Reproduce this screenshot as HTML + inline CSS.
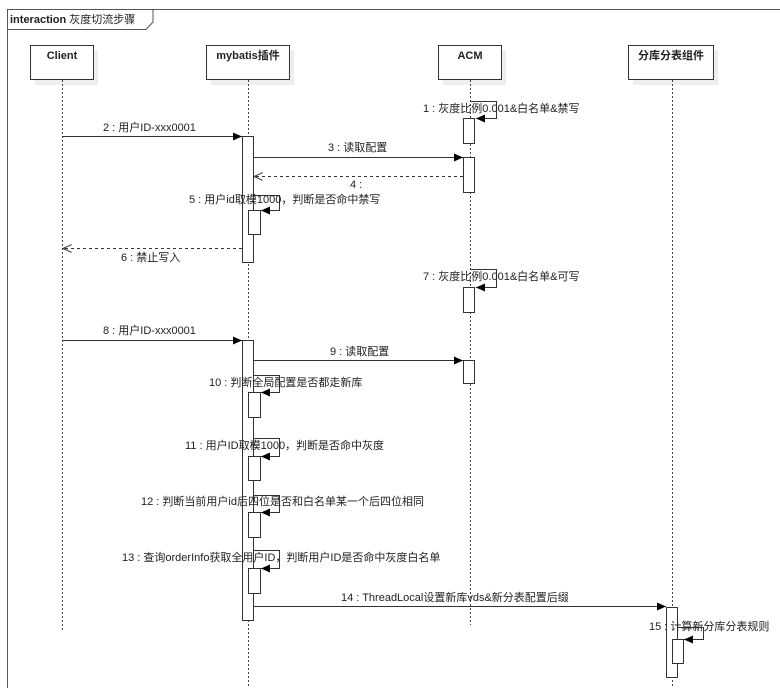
<!DOCTYPE html>
<html><head><meta charset="utf-8"><style>
html,body{margin:0;padding:0;background:#fff;width:780px;height:688px;overflow:hidden}
svg text{font-family:"Liberation Sans","Noto Sans CJK SC",sans-serif;font-size:11px;fill:#222}
</style></head><body>
<svg width="780" height="688" viewBox="0 0 780 688" xmlns="http://www.w3.org/2000/svg">
<defs>
<marker id="f" markerWidth="10" markerHeight="8" refX="9" refY="4" orient="auto" markerUnits="userSpaceOnUse"><path d="M0,0 L9,4 L0,8 z" fill="#000"/></marker>
<marker id="o" markerWidth="10" markerHeight="8" refX="9" refY="4" orient="auto" markerUnits="userSpaceOnUse"><path d="M0,0 L9,4 L0,8" fill="none" stroke="#333"/></marker>
</defs>
<g fill="none" stroke="#555">
<path d="M7.5,700 V9.5 H790"/>
<path d="M7.5,29.5 H146 L153,22 V9.5"/>
</g>
<text x="10" y="23" style="font-weight:bold">interaction <tspan style="font-weight:normal">灰度切流步骤</tspan></text>
<g fill="#eee">
<rect x="35" y="50" width="63" height="35"/><rect x="211" y="50" width="83" height="35"/>
<rect x="443" y="50" width="63" height="35"/><rect x="633" y="50" width="85" height="35"/>
</g>
<g fill="#fff" stroke="#333">
<rect x="30.5" y="45.5" width="63" height="34"/><rect x="206.5" y="45.5" width="83" height="34"/>
<rect x="438.5" y="45.5" width="63" height="34"/><rect x="628.5" y="45.5" width="85" height="34"/>
</g>
<g text-anchor="middle">
<text x="62" y="59" style="font-weight:bold">Client</text>
<text x="248" y="59" style="font-weight:bold">mybatis插件</text>
<text x="470" y="59" style="font-weight:bold">ACM</text>
<text x="671" y="59" style="font-weight:bold">分库分表组件</text>
</g>
<g stroke="#444" stroke-dasharray="2,2">
<line x1="62.5" y1="80" x2="62.5" y2="630"/>
<line x1="248.5" y1="80" x2="248.5" y2="688"/>
<line x1="470.5" y1="80" x2="470.5" y2="625"/>
<line x1="672.5" y1="80" x2="672.5" y2="688"/>
</g>
<g fill="none" stroke="#333">
<path d="M470,101.5 H496.5 V118.5 H476" marker-end="url(#f)"/>
<path d="M470,269.5 H496.5 V287.5 H476" marker-end="url(#f)"/>
<path d="M253,195.5 H279.5 V210.5 H261" marker-end="url(#f)"/>
<path d="M253,375.5 H279.5 V392.5 H261" marker-end="url(#f)"/>
<path d="M253,438.5 H279.5 V456.5 H261" marker-end="url(#f)"/>
<path d="M253,495.5 H279.5 V512.5 H261" marker-end="url(#f)"/>
<path d="M253,550.5 H279.5 V568.5 H261" marker-end="url(#f)"/>
<path d="M677,627.5 H703.5 V639.5 H684" marker-end="url(#f)"/>
</g>
<g fill="#fff" stroke="#333">
<rect x="463.5" y="118.5" width="11" height="25"/>
<rect x="463.5" y="157.5" width="11" height="35"/>
<rect x="463.5" y="287.5" width="11" height="25"/>
<rect x="463.5" y="360.5" width="11" height="23"/>
<rect x="242.5" y="136.5" width="11" height="126"/>
<rect x="248.5" y="210.5" width="12" height="24"/>
<rect x="242.5" y="340.5" width="11" height="280"/>
<rect x="248.5" y="392.5" width="12" height="25"/>
<rect x="248.5" y="456.5" width="12" height="24"/>
<rect x="248.5" y="512.5" width="12" height="25"/>
<rect x="248.5" y="568.5" width="12" height="25"/>
<rect x="666.5" y="607.5" width="11" height="70"/>
<rect x="672.5" y="639.5" width="11" height="24"/>
</g>
<g stroke="#333" fill="none">
<line x1="62" y1="136.5" x2="242" y2="136.5" marker-end="url(#f)"/>
<line x1="253" y1="157.5" x2="463" y2="157.5" marker-end="url(#f)"/>
<line x1="463" y1="176.5" x2="254" y2="176.5" stroke-dasharray="3,3" marker-end="url(#o)"/>
<line x1="242" y1="248.5" x2="63" y2="248.5" stroke-dasharray="3,3" marker-end="url(#o)"/>
<line x1="62" y1="340.5" x2="242" y2="340.5" marker-end="url(#f)"/>
<line x1="253" y1="360.5" x2="463" y2="360.5" marker-end="url(#f)"/>
<line x1="253" y1="606.5" x2="666" y2="606.5" marker-end="url(#f)"/>
</g>
<g>
<text x="423" y="112">1 : 灰度比例0.001&amp;白名单&amp;禁写</text>
<text x="103" y="131">2 : 用户ID-xxx0001</text>
<text x="328" y="151">3 : 读取配置</text>
<text x="350" y="188">4 :</text>
<text x="189" y="203">5 : 用户id取模1000，判断是否命中禁写</text>
<text x="121" y="261">6 : 禁止写入</text>
<text x="423" y="280">7 : 灰度比例0.001&amp;白名单&amp;可写</text>
<text x="103" y="334">8 : 用户ID-xxx0001</text>
<text x="330" y="355">9 : 读取配置</text>
<text x="209" y="386">10 : 判断全局配置是否都走新库</text>
<text x="185" y="449">11 : 用户ID取模1000，判断是否命中灰度</text>
<text x="141" y="505">12 : 判断当前用户id后四位是否和白名单某一个后四位相同</text>
<text x="122" y="561">13 : 查询orderInfo获取全用户ID，判断用户ID是否命中灰度白名单</text>
<text x="341" y="601">14 : ThreadLocal设置新库vds&amp;新分表配置后缀</text>
<text x="649" y="630">15 : 计算新分库分表规则</text>
</g>
</svg>
</body></html>
